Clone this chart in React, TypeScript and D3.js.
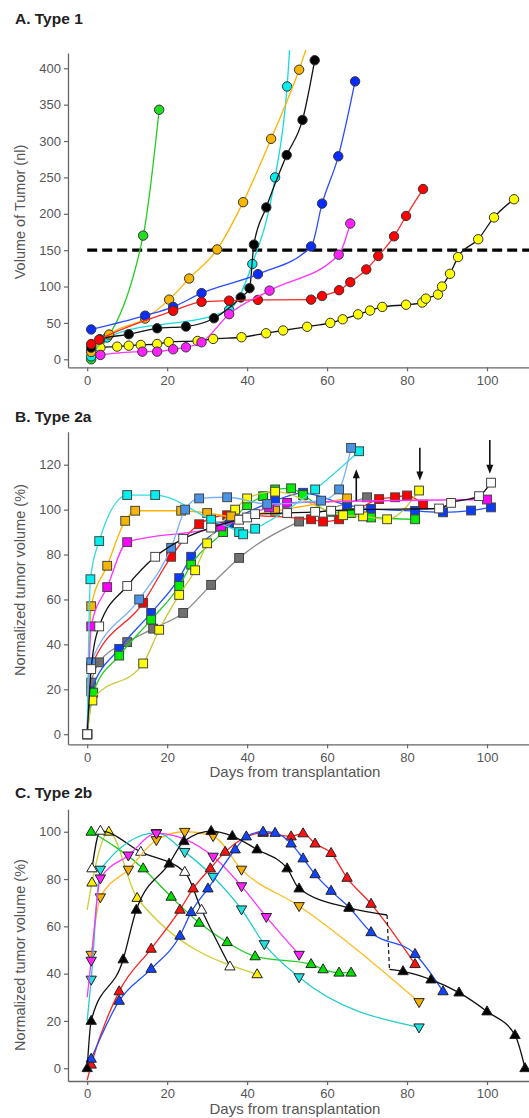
import { useEffect, useRef } from "react";
import * as d3 from "d3";

type Pt = [number, number];

const dayDomain = [-4.8, 110.5];
const dayTicks = [0, 20, 40, 60, 80, 100];
const aTicks = [0, 50, 100, 150, 200, 250, 300, 350, 400];
const bTicks = [0, 20, 40, 60, 80, 100, 120];
const cTicks = [0, 20, 40, 60, 80, 100];
const aThreshold = 150;

// A. Type 1 (volume, nl)
const aGreen: Pt[] = [[1, 0], [14, 170], [18, 343]];
const aYellow: Pt[] = [[1, 12], [3.3, 16], [7.5, 17.4], [10.4, 18.7], [13.4, 19.7], [17.5, 21], [20.4, 23.8], [27.6, 25.2], [31.5, 28], [38.6, 30.3], [44.75, 35.8], [49, 39.6], [55, 44.7], [60.8, 50], [63.9, 55], [67.75, 61.8], [70.75, 67], [73.8, 72], [79.75, 75], [83.8, 78], [84.7, 83.4], [87.75, 89], [88.75, 100], [90.75, 117.5], [92.75, 140.5], [97.8, 165], [101.75, 195], [106.75, 220]];
const aCyan: Pt[] = [[1, 4], [5, 30], [35.5, 68], [41.3, 131], [47, 250], [50, 375], [52, 560]];
const aOrange: Pt[] = [[1, 10], [5.5, 34], [14.5, 56], [20.5, 82], [25.5, 111], [32.5, 151], [39, 216], [46, 303], [53, 398], [56, 447]];
const aBlack: Pt[] = [[1, 16], [3.2, 27.5], [10.4, 34.4], [17.5, 42.6], [24.7, 45], [31.7, 56.4], [38.4, 85], [40.6, 97.7], [41.7, 157.6], [44.8, 208.8], [49.9, 280.7], [53.85, 329], [56.9, 411]];
const aBlue: Pt[] = [[1, 41], [14.5, 60], [21.5, 72], [28.6, 91], [42.7, 117], [56, 155], [58.75, 214], [62.8, 279], [67, 382]];
const aRed: Pt[] = [[1, 21], [3, 27], [21.5, 66.5], [28.6, 79], [35.5, 80.6], [42.7, 81.6], [56, 82], [58.75, 87], [63, 95], [65.8, 106], [69.8, 123.5], [72.8, 142], [76.75, 169], [79.75, 197], [84, 234]];
const aMagenta: Pt[] = [[3.3, 6], [13.8, 10.5], [17.5, 10.5], [21.5, 13.8], [24.7, 16.5], [28.6, 23.4], [35.5, 62], [45.6, 94.4], [62.9, 143.8], [65.8, 186.6]];

// B. Type 2a (normalized, %)
const bGray: Pt[] = [[0, 0], [1, 23], [3, 32], [10, 41], [16.5, 47], [24, 54], [31, 66.5], [38, 78.5], [53, 94.7], [70, 105.5]];
const bRed: Pt[] = [[0, 0], [1, 30], [14, 58.5], [21, 79], [28, 93.5], [35, 97.5], [56, 95.7], [59, 94.7], [63, 95.7], [73, 104.7], [77, 105.5], [80, 106.3], [84, 102.3]];
const bBlue: Pt[] = [[0, 0], [1, 19], [8, 38], [16, 54], [23, 69.5], [26, 79], [35.5, 94], [47, 104], [54, 107.5], [65, 102], [71, 100.3], [82, 99.4], [89, 98.8], [96, 99.6], [101, 101]];
const bGreen: Pt[] = [[0, 0], [1.5, 18.5], [8, 35], [16, 51], [23, 66], [26, 75.5], [34, 90], [40, 102], [44, 106], [47, 109], [51, 109.5], [54, 106.5], [61, 99], [66, 98.5], [71, 96.5], [82, 95.7]];
const bYellow: Pt[] = [[0, 0], [1.3, 15], [14, 31.5], [18, 46.5], [23, 62], [27, 73], [30, 85], [37, 100], [40, 105], [47, 108], [64, 97.5], [69, 97], [75, 95.7], [83, 108.5]];
const bOrange: Pt[] = [[0, 0], [1, 57], [5, 75], [9.5, 95], [12, 99.5], [23.5, 99.5], [30, 98.5], [36, 97], [47, 99.5], [65, 105]];
const bMagenta: Pt[] = [[0, 0], [1, 48], [5, 65.5], [10, 85.5], [33.5, 92.5], [45.5, 101], [50, 103], [100, 104.5]];
const bCyan: Pt[] = [[0, 0], [0.8, 69], [3, 86], [10, 106.5], [17, 106.5], [31, 95.5], [38, 90], [39, 89], [42, 91.5], [57, 109], [68, 126]];
const bLightBlue: Pt[] = [[0, 0], [1, 32], [13, 60], [21, 83], [24.5, 100], [28, 105], [35, 105.5], [45, 102.5], [58.5, 104], [63, 109], [66, 127.5]];
const bWhite: Pt[] = [[0, 0], [1, 29], [3, 48], [10, 66], [17, 79], [24, 87], [31, 92], [38, 95.5], [40, 96.5], [42, 98], [50, 98.5], [57, 99], [61, 99.5], [68, 100], [88, 100.5], [91, 103], [98, 106], [101, 112]];
// arrows: day, from, to
const bArrows: [number, number, number][] = [[67.3, 104, 118], [83.2, 127.5, 113], [100.7, 131, 116]];

// C. Type 2b (normalized, %)
const cYellowLead: Pt[] = [[0, 67]];
const cYellow: Pt[] = [[1.2, 78.5], [5.4, 100], [12.5, 72], [42.5, 39.7]];
const cGreen: Pt[] = [[1, 100], [14, 84.5], [21, 72.5], [28, 61.5], [35, 53.3], [42, 47.3], [56, 44], [59, 41.8], [63, 40.4], [66, 40.4]];
const cWhite: Pt[] = [[1.2, 84.5], [3.3, 100.4], [13.4, 91.5], [24.4, 83], [28.6, 67], [35.7, 43]];
const cOrange: Pt[] = [[1, 48], [3.3, 72.3], [10.3, 84], [17.3, 96.5], [24.4, 100], [31.5, 98.2], [38.6, 84], [53, 68.6], [83, 28]];
const cCyanLead: Pt[] = [[0, 20]];
const cCyan: Pt[] = [[1, 37.5], [3.3, 84], [17.3, 99.5], [24.4, 91.5], [31.5, 81], [38.6, 67.2], [44.3, 52.5], [53, 38.5], [83, 17.3]];
const cMagentaLead: Pt[] = [[0, 30]];
const cMagenta: Pt[] = [[1, 45.5], [3.3, 80.3], [10.3, 90], [17.3, 99.3], [31.5, 89.5], [38.6, 77], [44.8, 64], [53, 48]];
const cRedLead: Pt[] = [[0, -5]];
const cRed: Pt[] = [[1, 1.5], [8, 32.5], [16, 50.5], [23.2, 67], [26.5, 76], [30.8, 84.5], [34.5, 91.5], [44, 99.5], [51, 98], [54, 99.3], [57, 95], [61, 91], [65, 80.5], [71, 69.5], [82, 44]];
const cBlue: Pt[] = [[1, 4], [8, 28.5], [16, 42], [23.2, 56], [26, 66], [30.2, 76], [37, 92.5], [39.8, 98], [44, 100], [47, 99.5], [51, 95], [54, 88.7], [57, 82], [61, 75], [65.5, 68], [71, 57.5], [82, 48.3], [89, 32.5]];
const cBlack: Pt[] = [[0, 0], [1, 20], [9, 46], [12.3, 67], [20.5, 86.5], [24.2, 96], [31, 100.3], [36.3, 98.2], [42.5, 92.5], [50, 84.5], [53, 76], [65.5, 67.8]];
const cBlackTail: Pt[] = [[75, 64.8]];
const cBlackDrop: Pt[] = [[75, 64.8], [75.6, 41.8]];
const cBlackLate: Pt[] = [[79, 41], [86, 37.5], [93, 32], [100, 24], [107, 14], [109.5, 0]];

const font = "'Liberation Sans', Arial, Helvetica, sans-serif";

interface Series {
  pts: Pt[];
  fill: string;
  line: string;
  shape: "circle" | "square" | "up" | "down";
  lead?: Pt[];
  tail?: Pt[];
}

function marker(g: any, shape: string, cx: number, cy: number, fill: string) {
  if (shape === "circle") {
    g.append("circle").attr("cx", cx).attr("cy", cy).attr("r", 4.7)
      .attr("fill", fill).attr("stroke", "#333").attr("stroke-width", 1);
  } else if (shape === "square") {
    g.append("rect").attr("x", cx - 4.4).attr("y", cy - 4.4).attr("width", 8.8).attr("height", 8.8)
      .attr("fill", fill).attr("stroke", "#444").attr("stroke-width", 1);
  } else {
    const s = shape === "up" ? 1 : -1;
    const d = `M${cx},${cy - 5.6 * s}L${cx + 5.2},${cy + 3.4 * s}L${cx - 5.2},${cy + 3.4 * s}Z`;
    g.append("path").attr("d", d).attr("fill", fill).attr("stroke", "#222").attr("stroke-width", 1);
  }
}

function drawPanel(svg: any, p: any) {
  const x = d3.scaleLinear().domain(dayDomain).range([68, 529]);
  const y = d3.scaleLinear().domain(p.yDomain).range([p.bottom, p.top]);

  svg.append("clipPath").attr("id", "clip" + p.key)
    .append("rect").attr("x", 68).attr("y", p.top - 3)
    .attr("width", 461).attr("height", p.bottom - p.top + 3);

  svg.append("text").attr("x", 15).attr("y", p.titleY).text(p.title)
    .attr("font-family", font).attr("font-weight", "bold")
    .attr("font-size", 15.5).attr("fill", "#222");

  const yAxis = svg.append("g").attr("transform", "translate(68,0)")
    .call(d3.axisLeft(y).tickValues(p.yTicks).tickSize(4).tickSizeOuter(0).tickPadding(3));
  const xAxis = svg.append("g").attr("transform", `translate(0,${p.bottom})`)
    .call(d3.axisBottom(x).tickValues(dayTicks).tickSize(4).tickSizeOuter(0).tickPadding(4));
  [yAxis, xAxis].forEach((a) => {
    a.select(".domain").attr("stroke", "#666").attr("stroke-width", 1.3);
    a.selectAll(".tick line").attr("stroke", "#666").attr("stroke-width", 1.2);
    a.selectAll(".tick text").attr("fill", "#555").attr("font-size", 13).attr("font-family", font);
  });

  svg.append("text")
    .attr("transform", `translate(25,${p.yLabelY}) rotate(-90)`)
    .attr("text-anchor", "middle").attr("fill", "#555")
    .attr("font-size", 14.5).attr("font-family", font)
    .text(p.yLabel);

  if (p.xLabel) {
    svg.append("text").attr("x", 295).attr("y", p.bottom + 33)
      .attr("text-anchor", "middle").attr("fill", "#555")
      .attr("font-size", 15).attr("font-family", font)
      .text(p.xLabel);
  }

  const plot = svg.append("g").attr("clip-path", `url(#clip${p.key})`);
  const line = d3.line<Pt>().x((d) => x(d[0])).y((d) => y(d[1])).curve(d3.curveMonotoneX);

  if (p.extra) p.extra(plot, x, y, line);

  p.series.forEach((s: Series) => {
    const all = [...(s.lead || []), ...s.pts, ...(s.tail || [])];
    plot.append("path").datum(all).attr("d", line)
      .attr("fill", "none").attr("stroke", s.line).attr("stroke-width", 1.3);
    s.pts.forEach((d) => marker(plot, s.shape, x(d[0]), y(d[1]), s.fill));
  });

  if (p.after) p.after(plot, x, y, line);
}

const panelA = {
  key: "A", title: "A. Type 1", titleY: 24, top: 53, bottom: 367.3, yDomain: [-11, 421],
  yTicks: aTicks, yLabel: "Volume of Tumor  (nl)", yLabelY: 212,
  series: [
    { pts: aGreen, fill: "#22dd22", line: "#22cc22", shape: "circle" },
    { pts: aYellow, fill: "#ffff00", line: "#111", shape: "circle" },
    { pts: aCyan, fill: "#00eeee", line: "#11dddd", shape: "circle" },
    { pts: aOrange, fill: "#f7b500", line: "#ffb300", shape: "circle" },
    { pts: aBlack, fill: "#000", line: "#111", shape: "circle" },
    { pts: aBlue, fill: "#0a2cff", line: "#2a4cff", shape: "circle" },
    { pts: aRed, fill: "#ff0000", line: "#ff2a2a", shape: "circle" },
    { pts: aMagenta, fill: "#ff22ff", line: "#ff33ff", shape: "circle" },
  ] as Series[],
  extra: (plot: any, x: any, y: any) => {
    plot.append("line").attr("x1", x(0)).attr("x2", 529)
      .attr("y1", y(aThreshold)).attr("y2", y(aThreshold))
      .attr("stroke", "#000").attr("stroke-width", 3.2).attr("stroke-dasharray", "10,5");
  },
};

const panelB = {
  key: "B", title: "B. Type 2a", titleY: 422, top: 431.7, bottom: 744.3, yDomain: [-4.5, 134.7],
  yTicks: bTicks, yLabel: "Normalized tumor volume (%)", yLabelY: 580, xLabel: "Days from transplantation",
  series: [
    { pts: bGray, fill: "#707070", line: "#8a8a8a", shape: "square" },
    { pts: bRed, fill: "#ff0000", line: "#ff2020", shape: "square" },
    { pts: bBlue, fill: "#0a3cff", line: "#2050ff", shape: "square" },
    { pts: bGreen, fill: "#00ee00", line: "#22cc22", shape: "square" },
    { pts: bYellow, fill: "#ffff00", line: "#c8c83a", shape: "square" },
    { pts: bOrange, fill: "#f5b400", line: "#ffb300", shape: "square" },
    { pts: bMagenta, fill: "#ff00ff", line: "#ff33ff", shape: "square" },
    { pts: bCyan, fill: "#00f0f0", line: "#33dddd", shape: "square" },
    { pts: bLightBlue, fill: "#4a94e8", line: "#77b0ff", shape: "square" },
    { pts: bWhite, fill: "#ffffff", line: "#111", shape: "square" },
  ] as Series[],
  after: (plot: any, x: any, y: any) => {
    bArrows.forEach(([d, from, to]) => {
      const dir = to > from ? -1 : 1; // screen direction of tip
      const tx = x(d), ty = y(to);
      plot.append("line").attr("x1", tx).attr("x2", tx).attr("y1", y(from)).attr("y2", ty - dir * 6)
        .attr("stroke", "#111").attr("stroke-width", 1.6);
      plot.append("path").attr("d", `M${tx},${ty}L${tx - 3.5},${ty - dir * 9}L${tx + 3.5},${ty - dir * 9}Z`)
        .attr("fill", "#111");
    });
  },
};

const panelC = {
  key: "C", title: "C. Type 2b", titleY: 798, top: 809.3, bottom: 1081, yDomain: [-5.4, 109.5],
  yTicks: cTicks, yLabel: "Normalized tumor volume (%)", yLabelY: 955, xLabel: "Days from transplantation",
  series: [
    { pts: cYellow, lead: cYellowLead, fill: "#ffee00", line: "#cccc33", shape: "up" },
    { pts: cGreen, fill: "#00dd00", line: "#22cc22", shape: "up" },
    { pts: cWhite, fill: "#ffffff", line: "#111", shape: "up" },
    { pts: cOrange, fill: "#f5b000", line: "#ffbb22", shape: "down" },
    { pts: cCyan, lead: cCyanLead, fill: "#22e0e0", line: "#22cccc", shape: "down" },
    { pts: cMagenta, lead: cMagentaLead, fill: "#ff22ff", line: "#ff33ff", shape: "down" },
    { pts: cRed, lead: cRedLead, fill: "#ff1111", line: "#ff2020", shape: "up" },
    { pts: cBlue, fill: "#1144ff", line: "#2050ff", shape: "up" },
    { pts: cBlack, tail: cBlackTail, fill: "#000", line: "#111", shape: "up" },
    { pts: cBlackLate, lead: [cBlackDrop[1]], fill: "#000", line: "#111", shape: "up" },
  ] as Series[],
  after: (plot: any, x: any, y: any) => {
    plot.append("path").datum(cBlackDrop)
      .attr("d", d3.line<Pt>().x((d) => x(d[0])).y((d) => y(d[1])))
      .attr("fill", "none").attr("stroke", "#222").attr("stroke-width", 1.3)
      .attr("stroke-dasharray", "4,3");
  },
};

export default function App() {
  const ref = useRef<SVGSVGElement>(null);
  useEffect(() => {
    const svg = d3.select(ref.current);
    svg.selectAll("*").remove();
    drawPanel(svg, panelA);
    drawPanel(svg, panelB);
    drawPanel(svg, panelC);
  }, []);
  return (
    <svg ref={ref} width={529} height={1118}
      style={{ position: "absolute", left: 0, top: 0, background: "#fff" }} />
  );
}
